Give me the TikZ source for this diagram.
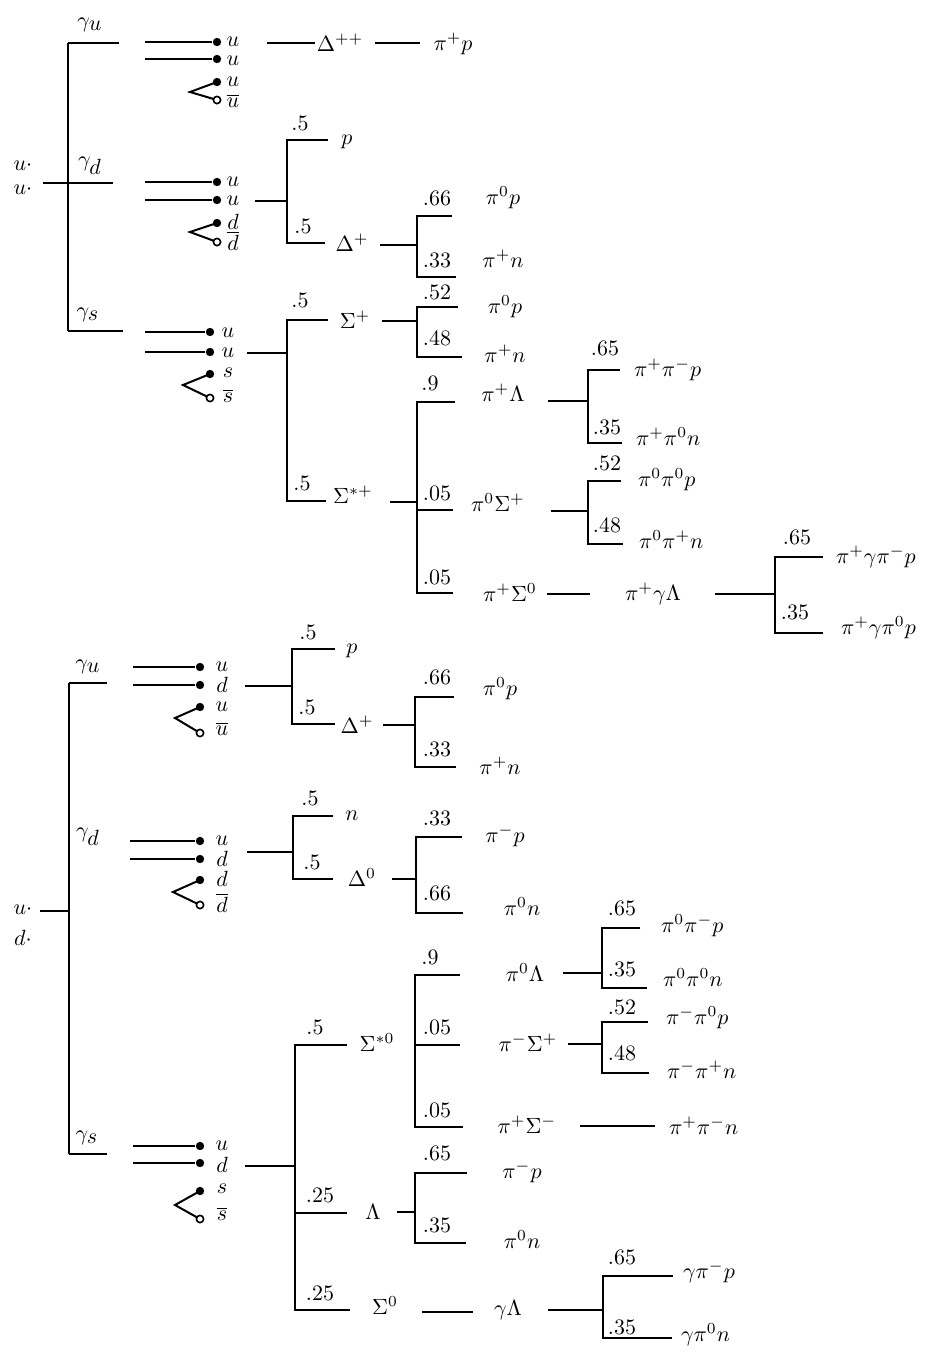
\documentclass[tikz,border=0pt]{standalone}
\begin{document}
\begin{tikzpicture}[x=0.4545pt,y=-0.4545pt,line width=0.91pt,
  lab/.style={inner sep=0pt},
  fdot/.style={circle,fill,inner sep=0pt,minimum size=3.8pt},
  odot/.style={circle,draw,fill=white,inner sep=0pt,minimum size=3.3pt,line width=0.73pt}]
\useasboundingbox (0,0) rectangle (933,1356);

% ================= TOP: u u =================
\draw (68,43) -- (68,331);
\draw (68,43) -- (119,43);
\draw (43,183) -- (113,183);
\draw (68,331) -- (123,331);
\node[lab] (tu1) at (23,166) {$u{\cdot}$};
\node[lab] (tu2) at (23,190) {$u{\cdot}$};
\node[lab] (tgu) at (90,25) {$\gamma_{\textstyle u}$};
\node[lab] (tgd) at (90,166) {$\gamma_{\textstyle d}$};
\node[lab] (tgs) at (88,315) {$\gamma_{\textstyle s}$};

% gamma_u quarks
\node[fdot] (a1) at (217,42) {};
\node[fdot] (a2) at (217,59) {};
\draw (145,42) -- (a1);
\draw (145,59) -- (a2);
\coordinate (av) at (190,92);
\draw (217,82) -- (av) -- (217,100);
\node[fdot] (a3) at (217,82) {};
\node[odot] (a4) at (217,100) {};
\node[lab] at (233,42) {$u$};
\node[lab] at (233,61) {$u$};
\node[lab] at (233,82) {$u$};
\node[lab] at (233,101) {$\overline{u}$};
\node[lab] (Dpp) at (340,43) {$\Delta^{++}$};
\node[lab] (pipp) at (453,44) {$\pi^+p$};
\draw (267,43) -- (315,43);
\draw (375,43) -- (420,43);

% gamma_d quarks
\node[fdot] (b1) at (217,182) {};
\node[fdot] (b2) at (217,200) {};
\draw (145,182) -- (b1);
\draw (145,200) -- (b2);
\coordinate (bv) at (190,232);
\draw (217,223) -- (bv) -- (217,242);
\node[fdot] (b3) at (217,223) {};
\node[odot] (b4) at (217,242) {};
\node[lab] at (233,182) {$u$};
\node[lab] at (233,201) {$u$};
\node[lab] at (233,222) {$d$};
\node[lab] at (233,241) {$\overline{d}$};
\draw (255,201) -- (287,201);
\draw (328,140) -- (287,140) -- (287,243) -- (325,243);
\node[lab] at (300,123) {.5};
\node[lab] at (347,142) {$p$};
\node[lab] at (303,226) {.5};
\node[lab] at (352,243) {$\Delta^+$};
\draw (380,245) -- (417,245);
\draw (452,216) -- (417,216) -- (417,277) -- (456,277);
\node[lab] at (437,198) {.66};
\node[lab] at (437,260) {.33};
\node[lab] at (503,198) {$\pi^0p$};
\node[lab] at (503,259) {$\pi^+n$};

% gamma_s quarks
\node[fdot] (c1) at (210,332) {};
\node[fdot] (c2) at (210,352) {};
\draw (145,332) -- (c1);
\draw (145,352) -- (c2);
\coordinate (cv) at (183,385);
\draw (210,374) -- (cv) -- (210,398);
\node[fdot] (c3) at (210,374) {};
\node[odot] (c4) at (210,398) {};
\node[lab] at (228,333) {$u$};
\node[lab] at (228,353) {$u$};
\node[lab] at (228,373) {$s$};
\node[lab] at (228,396) {$\overline{s}$};
\draw (247,353) -- (287,353);
\draw (328,320) -- (287,320) -- (287,501) -- (326,501);
\node[lab] at (300,300) {.5};
\node[lab] at (355,320) {$\Sigma^+$};
\node[lab] at (302,483) {.5};
\node[lab] at (353,495) {$\Sigma^{*+}$};
% Sigma+
\draw (382,321) -- (417,321);
\draw (458,307) -- (417,307) -- (417,357) -- (462,357);
\node[lab] at (437,292) {.52};
\node[lab] at (437,338) {.48};
\node[lab] at (505,307) {$\pi^0p$};
\node[lab] at (505,354) {$\pi^+n$};
% Sigma*+
\draw (390,502) -- (417,502);
\draw (455,402) -- (417,402) -- (417,593) -- (453,593);
\draw (417,510) -- (453,510);
\node[lab] at (430,383) {.9};
\node[lab] at (437,493) {.05};
\node[lab] at (437,577) {.05};
\node[lab] at (503,393) {$\pi^+\Lambda$};
\node[lab] at (498,503) {$\pi^0\Sigma^+$};
\node[lab] at (510,593) {$\pi^+\Sigma^0$};
% pi+ Lambda
\draw (548,401) -- (588,401);
\draw (620,370) -- (588,370) -- (588,443) -- (622,443);
\node[lab] at (605,348) {.65};
\node[lab] at (607,427) {.35};
\node[lab,anchor=west] at (633,370) {$\pi^+\pi^-p$};
\node[lab,anchor=west] at (635,437) {$\pi^+\pi^0n$};
% pi0 Sigma+
\draw (551,511) -- (588,511);
\draw (621,481) -- (588,481) -- (588,544) -- (623,544);
\node[lab] at (607,463) {.52};
\node[lab] at (607,525) {.48};
\node[lab,anchor=west] at (637,480) {$\pi^0\pi^0p$};
\node[lab,anchor=west] at (638,540) {$\pi^0\pi^+n$};
% pi+ Sigma0
\draw (547,594) -- (590,594);
\node[lab] at (653,594) {$\pi^+\gamma\Lambda$};
\draw (715,594) -- (775,594);
\draw (823,557) -- (775,557) -- (775,633) -- (823,633);
\node[lab] at (797,537) {.65};
\node[lab] at (795,612) {.35};
\node[lab,anchor=west] at (835,557) {$\pi^+\gamma\pi^-p$};
\node[lab,anchor=west] at (840,628) {$\pi^+\gamma\pi^0p$};

% ================= BOTTOM: u d =================
\draw (69,683) -- (69,1154);
\draw (69,683) -- (107,683);
\draw (40,911) -- (69,911);
\draw (69,1154) -- (107,1154);
\node[lab] at (23,910) {$u{\cdot}$};
\node[lab] at (23,938) {$d{\cdot}$};
\node[lab] at (88,667) {$\gamma_{\textstyle u}$};
\node[lab] at (88,837) {$\gamma_{\textstyle d}$};
\node[lab] at (87,1138) {$\gamma_{\textstyle s}$};

% gamma_u quarks
\node[fdot] (d1) at (200,667) {};
\node[fdot] (d2) at (200,685) {};
\draw (133,667) -- (d1);
\draw (133,685) -- (d2);
\coordinate (dv) at (175,718);
\draw (200,707) -- (dv) -- (200,733);
\node[fdot] (d3) at (200,707) {};
\node[odot] (d4) at (200,733) {};
\node[lab] at (222,667) {$u$};
\node[lab] at (222,685) {$d$};
\node[lab] at (222,707) {$u$};
\node[lab] at (222,729) {$\overline{u}$};
\draw (245,686) -- (292,686);
\draw (335,649) -- (292,649) -- (292,724) -- (335,724);
\node[lab] at (308,632) {.5};
\node[lab] at (352,651) {$p$};
\node[lab] at (307,707) {.5};
\node[lab] at (357,725) {$\Delta^+$};
\draw (383,725) -- (415,725);
\draw (454,697) -- (415,697) -- (415,767) -- (456,767);
\node[lab] at (437,677) {.66};
\node[lab] at (437,749) {.33};
\node[lab] at (500,689) {$\pi^0p$};
\node[lab] at (500,766) {$\pi^+n$};

% gamma_d quarks
\node[fdot] (e1) at (200,841) {};
\node[fdot] (e2) at (200,859) {};
\draw (130,841) -- (e1);
\draw (130,859) -- (e2);
\coordinate (ev) at (173,892);
\draw (200,880) -- (ev) -- (200,905);
\node[fdot] (e3) at (200,880) {};
\node[odot] (e4) at (200,905) {};
\node[lab] at (222,841) {$u$};
\node[lab] at (222,859) {$d$};
\node[lab] at (222,879) {$d$};
\node[lab] at (222,903) {$\overline{d}$};
\draw (247,852) -- (293,852);
\draw (333,816) -- (293,816) -- (293,879) -- (333,879);
\node[lab] at (310,798) {.5};
\node[lab] at (352,816) {$n$};
\node[lab] at (312,862) {.5};
\node[lab] at (362,878) {$\Delta^0$};
\draw (392,879) -- (416,879);
\draw (462,837) -- (416,837) -- (416,913) -- (463,913);
\node[lab] at (437,818) {.33};
\node[lab] at (437,893) {.66};
\node[lab] at (505,836) {$\pi^-p$};
\node[lab] at (522,907) {$\pi^0n$};

% gamma_s quarks
\node[fdot] (f1) at (200,1146) {};
\node[fdot] (f2) at (200,1163) {};
\draw (133,1146) -- (f1);
\draw (133,1163) -- (f2);
\coordinate (fv) at (175,1205);
\draw (200,1191) -- (fv) -- (200,1219);
\node[fdot] (f3) at (200,1191) {};
\node[odot] (f4) at (200,1219) {};
\node[lab] at (222,1146) {$u$};
\node[lab] at (222,1165) {$d$};
\node[lab] at (222,1189) {$s$};
\node[lab] at (222,1214) {$\overline{s}$};
\draw (245,1166) -- (295,1166);
\draw (347,1045) -- (295,1045) -- (295,1310) -- (350,1310);
\draw (295,1213) -- (347,1213);
\node[lab] at (315,1027) {.5};
\node[lab] at (377,1043) {$\Sigma^{*0}$};
\node[lab] at (320,1195) {.25};
\node[lab] at (373,1212) {$\Lambda$};
\node[lab] at (320,1293) {.25};
\node[lab] at (385,1306) {$\Sigma^0$};
% Sigma*0
\draw (460,975) -- (415,975) -- (415,1127) -- (463,1127);
\draw (415,1045) -- (460,1045);
\node[lab] at (430,957) {.9};
\node[lab] at (437,1027) {.05};
\node[lab] at (437,1110) {.05};
\node[lab] at (525,973) {$\pi^0\Lambda$};
\node[lab] at (528,1043) {$\pi^-\Sigma^+$};
\node[lab] at (527,1125) {$\pi^+\Sigma^-$};
% pi0 Lambda
\draw (563,973) -- (602,973);
\draw (640,928) -- (602,928) -- (602,988) -- (647,988);
\node[lab] at (622,908) {.65};
\node[lab] at (622,969) {.35};
\node[lab,anchor=west] at (660,926) {$\pi^0\pi^-p$};
\node[lab,anchor=west] at (662,978) {$\pi^0\pi^0n$};
% pi- Sigma+
\draw (568,1044) -- (602,1044);
\draw (648,1022) -- (602,1022) -- (602,1073) -- (649,1073);
\node[lab] at (622,1007) {.52};
\node[lab] at (622,1053) {.48};
\node[lab,anchor=west] at (665,1018) {$\pi^-\pi^0p$};
\node[lab,anchor=west] at (666,1070) {$\pi^-\pi^+n$};
% pi+ Sigma-
\draw (580,1126) -- (655,1126);
\node[lab,anchor=west] at (668,1126) {$\pi^+\pi^-n$};
% Lambda
\draw (397,1212) -- (415,1212);
\draw (467,1173) -- (415,1173) -- (415,1243) -- (466,1243);
\node[lab] at (437,1153) {.65};
\node[lab] at (437,1225) {.35};
\node[lab] at (522,1172) {$\pi^-p$};
\node[lab] at (522,1240) {$\pi^0n$};
% Sigma0
\draw (422,1312) -- (473,1312);
\node[lab] at (508,1310) {$\gamma\Lambda$};
\draw (548,1310) -- (603,1310);
\draw (673,1276) -- (603,1276) -- (603,1338) -- (672,1338);
\node[lab] at (622,1257) {.65};
\node[lab] at (622,1327) {.35};
\node[lab,anchor=west] at (682,1272) {$\gamma\pi^-p$};
\node[lab,anchor=west] at (680,1335) {$\gamma\pi^0n$};
\end{tikzpicture}
\end{document}
